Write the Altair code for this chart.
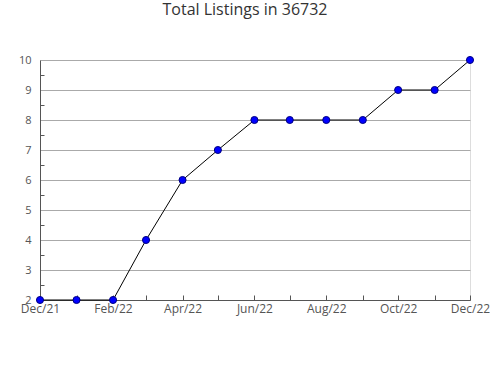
import altair as alt
import pandas as pd

months = ["2021-12-01", "2022-01-01", "2022-02-01", "2022-03-01", "2022-04-01",
          "2022-05-01", "2022-06-01", "2022-07-01", "2022-08-01", "2022-09-01",
          "2022-10-01", "2022-11-01", "2022-12-01"]
listings = [2, 2, 2, 4, 6, 7, 8, 8, 8, 8, 9, 9, 10]
y_major = [2, 3, 4, 5, 6, 7, 8, 9, 10]
y_minor = [2.5, 3.5, 4.5, 5.5, 6.5, 7.5, 8.5, 9.5]

df = pd.DataFrame({"month": months, "listings": listings})

FONT = "Open Sans"
xscale = alt.Scale(domain=["2021-12-01", "2022-12-01"], nice=False)
yscale = alt.Scale(domain=[2, 10], nice=False, zero=False)

x_main = alt.X("month:T", scale=xscale, title=None,
               axis=alt.Axis(values=[m for i, m in enumerate(months) if i % 2 == 0],
                             format="%b/%y", tickSize=0, grid=False, orient="bottom",
                             labelFlush=False, labelOverlap=False,
                             domainColor="#555555", labelColor="#555555",
                             labelFont=FONT, labelFontSize=12, labelPadding=3))
y_main = alt.Y("listings:Q", scale=yscale, title=None,
               axis=alt.Axis(values=y_major, tickSize=0, grid=True, orient="left",
                             labelFlush=False,
                             gridColor="#aaaaaa", domainColor="#555555",
                             labelColor="#555555", labelFont=FONT,
                             labelFontSize=11, labelPadding=9))

minor = alt.Chart(df).mark_point(opacity=0).encode(
    x=alt.X("month:T", scale=xscale, title=None,
            axis=alt.Axis(values=months, labels=False, domain=False, grid=False,
                          tickSize=5, offset=-5, tickColor="#555555", orient="bottom")),
    y=alt.Y("listings:Q", scale=yscale, title=None,
            axis=alt.Axis(values=y_minor, labels=False, domain=False, grid=False,
                          tickSize=4, offset=-4, tickColor="#555555", orient="left")),
)

line = alt.Chart(df).mark_line(color="black", strokeWidth=1).encode(x=x_main, y=y_main)
pts = alt.Chart(df).mark_point(filled=True, shape="circle", size=50, fill="#0000ff",
                               stroke="#000080", strokeWidth=1, opacity=1).encode(
    x=alt.X("month:T", scale=xscale, axis=None),
    y=alt.Y("listings:Q", scale=yscale, axis=None))

chart = alt.layer(minor, line, pts).resolve_axis(x="independent", y="independent").properties(
    width=430, height=240,
    title=alt.TitleParams("Total Listings in 36732", font=FONT, fontSize=16,
                          fontWeight="normal", color="#333333", dx=-10, offset=36),
    autosize=alt.AutoSizeParams(type="none"),
    padding={"left": 40, "top": 60, "right": 20, "bottom": 80},
).configure_view(stroke=None).configure(background="white")

chart.save("out.html", embed_options={"renderer": "svg", "actions": False})
